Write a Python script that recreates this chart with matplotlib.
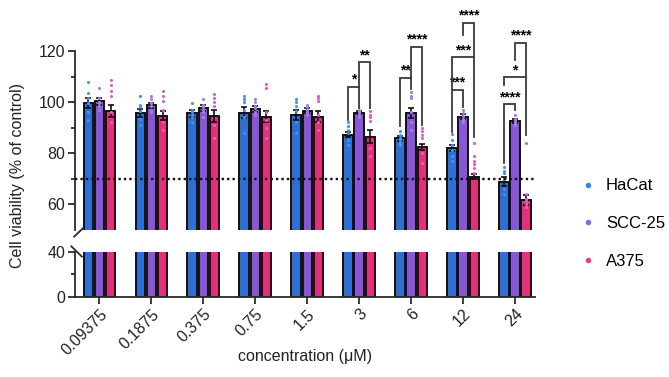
import matplotlib
matplotlib.use("Agg")
import matplotlib.pyplot as plt
from matplotlib.lines import Line2D
import numpy as np

plt.rcParams['font.family'] = ['Liberation Sans', 'DejaVu Sans']

# ------------------ DATA ------------------

concentrations = ["0.09375", "0.1875", "0.375", "0.75", "1.5", "3", "6", "12", "24"]
cell_lines = ["HaCat", "SCC-25", "A375"]

hacat_mean = [99.5, 95.7, 95.5, 95.8, 95.0, 87.1, 85.8, 81.8, 68.8]
scc_mean = [100.2, 98.8, 97.5, 97.3, 96.5, 95.8, 95.6, 94.3, 92.7]
a375_mean = [96.5, 94.7, 94.5, 94.2, 94.3, 86.4, 82.5, 70.7, 61.6]

hacat_err = [2.0, 1.5, 1.2, 2.2, 2.0, 1.0, 1.0, 1.2, 1.8]
scc_err = [1.2, 1.0, 1.2, 1.2, 1.0, 0.6, 2.0, 1.0, 0.8]
a375_err = [2.2, 1.8, 2.5, 2.2, 2.3, 2.5, 1.2, 1.0, 2.0]

hacat_points = [
    [108, 103.5, 101.5, 99.5, 96, 93],
    [102.5, 99, 98, 96.5, 93.5, 91],
    [99.5, 97, 96, 95, 94, 92],
    [102.5, 101, 100, 97, 94, 88],
    [101, 100, 98.5, 96.5, 92, 88],
    [92, 90.5, 89, 88, 85, 83],
    [88.5, 87, 86, 85, 84, 83],
    [87.5, 85, 83, 81, 79, 77],
    [74.5, 73, 72, 70, 66, 64],
]
scc_points = [
    [105.5, 101.5, 100, 99.5, 98.5, 97],
    [102.5, 101, 99.5, 98.5, 97, 96],
    [101, 99, 98, 97, 96, 94],
    [101, 100, 98.5, 97.5, 96, 95],
    [99, 98, 97, 96, 95.5, 95],
    [97, 96.5, 96, 95.5, 95, 94],
    [104, 102.5, 101.5, 96, 92, 89],
    [97, 95.5, 94.5, 93.5, 92.5, 92],
    [95, 93.5, 93, 92, 91.5, 91],
]
a375_points = [
    [108.5, 106.5, 104.5, 102.5, 96, 92],
    [104.5, 102.5, 100.5, 97, 92, 89],
    [103, 101.5, 100, 98.5, 91, 86],
    [107, 105.5, 96, 93, 90, 86],
    [102.5, 101.5, 100.5, 95, 92, 89],
    [96.5, 95, 94, 92.5, 82, 79],
    [90, 88.5, 87, 86, 80, 76],
    [84, 79, 77, 75.5, 74, 72],
    [84, 64, 62, 61, 60, 59],
]

# (group, bar_a, bar_b, top, left leg bottom, right leg bottom, label)
brackets = [
    (5, 0, 1, 106.0, 93.0, 97.5, "*"),
    (5, 1, 2, 115.5, 106.0, 97.5, "**"),
    (6, 0, 1, 109.5, 90.5, 105.0, "**"),
    (6, 1, 2, 121.5, 109.5, 91.0, "****"),
    (7, 0, 1, 104.7, 88.4, 98.2, "***"),
    (7, 0, 2, 117.5, 104.7, 86.4, "***"),
    (7, 1, 2, 131.0, 126.3, 117.5, "****"),
    (8, 0, 1, 99.1, 76.0, 96.9, "****"),
    (8, 0, 2, 109.7, 106.5, 87.0, "*"),
    (8, 1, 2, 123.3, 116.5, 109.7, "****"),
]

threshold = 70

bar_colors = ["#2f6fd3", "#8757d8", "#e2307b"]
dot_colors = ["#4a92e6", "#a07ee6", "#d862c4"]
legend_colors = ["#3a86dc", "#8c68dc", "#e83c8c"]

offsets = [-0.215, 0.0, 0.215]
bar_w = 0.18


# ------------------ PLOTTING ------------------

def draw_bars(ax, means, with_details):
    x = np.arange(len(concentrations))
    errs = [hacat_err, scc_err, a375_err]
    points = [hacat_points, scc_points, a375_points]
    for k in range(3):
        ax.bar(x + offsets[k], means[k], width=bar_w, color=bar_colors[k],
               edgecolor="#111111", linewidth=1.4, zorder=2)
        if with_details:
            ax.errorbar(x + offsets[k], means[k], yerr=errs[k], fmt="none",
                        ecolor="#111111", elinewidth=1.2, capsize=2, capthick=1.2, zorder=3)
            for g in range(len(concentrations)):
                vals = points[k][g]
                ax.scatter([x[g] + offsets[k]] * len(vals), vals, s=5,
                           color=dot_colors[k], linewidths=0, zorder=4, clip_on=False)


def draw_brackets(ax):
    for g, a, b, top, lb, rb, label in brackets:
        xa = g + offsets[a]
        xb = g + offsets[b]
        ax.plot([xa, xa, xb, xb], [lb, top, top, rb], color="#3a3a3a",
                linewidth=1.3, clip_on=False, zorder=5, solid_joinstyle="miter")
        ax.text((xa + xb) / 2, top + 0.1, label, ha="center", va="bottom",
                fontsize=10, fontweight="bold", clip_on=False)


def main():
    fig = plt.figure(figsize=(6.69, 3.77), dpi=100)
    W, H = 669, 377
    left, right = 75, 535
    ax_top = fig.add_axes([left / W, 1 - 229.5 / H, (right - left) / W, 178.5 / H])
    ax_bot = fig.add_axes([left / W, 1 - 296.7 / H, (right - left) / W, 45 / H])

    means = [hacat_mean, scc_mean, a375_mean]
    draw_bars(ax_top, means, True)
    draw_bars(ax_bot, means, False)
    draw_brackets(ax_top)

    ax_top.axhline(threshold, color="#111111", linewidth=1.7,
                   linestyle=(0, (1.0, 1.3)), zorder=6)

    xlim = (-0.47, 8.385)
    for ax in (ax_top, ax_bot):
        ax.set_xlim(*xlim)
        ax.spines["top"].set_visible(False)
        ax.spines["right"].set_visible(False)
        for s in ("left", "bottom"):
            ax.spines[s].set_linewidth(1.3)
            ax.spines[s].set_color("#2a2a2a")
        ax.tick_params(axis="both", which="major", length=5, width=1.3,
                       color="#2a2a2a", labelsize=11.5, labelcolor="#222222", pad=2)
        ax.tick_params(axis="y", which="minor", length=3, width=1.3, color="#2a2a2a")
        ax.patch.set_alpha(0)

    ax_top.set_ylim(50, 120)
    ax_top.set_yticks([60, 80, 100, 120])
    ax_top.set_yticks([70, 90, 110], minor=True)
    ax_top.spines["bottom"].set_visible(False)
    ax_top.set_xticks([])

    ax_bot.set_ylim(0, 40)
    ax_bot.set_yticks([0, 40])
    ax_bot.set_yticks([20], minor=True)
    ax_bot.set_xticks(np.arange(len(concentrations)))
    ax_bot.set_xticklabels(concentrations, rotation=45, ha="right",
                           rotation_mode="anchor")

    # break marks
    ax_top.plot([-0.002, 0.017], [-0.04, 0.006], transform=ax_top.transAxes,
                color="#2a2a2a", linewidth=1.3, clip_on=False)
    ax_bot.plot([-0.008, 0.015], [1.12, 0.89], transform=ax_bot.transAxes,
                color="#2a2a2a", linewidth=1.3, clip_on=False)

    fig.text(18 / W, 1 - 175 / H, "Cell viability (% of control)", rotation=90,
             ha="center", va="center", fontsize=11.5, color="#222222")
    fig.text(305 / W, 1 - 357 / H, "concentration (\u03bcM)", ha="center",
             va="center", fontsize=11.5, color="#222222")

    handles = [Line2D([], [], marker="o", linestyle="none", markersize=4,
                      markerfacecolor=c, markeredgewidth=0) for c in legend_colors]
    fig.legend(handles, cell_lines, loc="center left",
               bbox_to_anchor=(581 / W, 1 - 223.5 / H), frameon=False,
               fontsize=12, handlelength=0.8, handletextpad=0.7,
               labelspacing=1.35, borderpad=0, borderaxespad=0)

    fig.savefig("out.png", dpi=100)
    plt.close(fig)


if __name__ == "__main__":
    main()
